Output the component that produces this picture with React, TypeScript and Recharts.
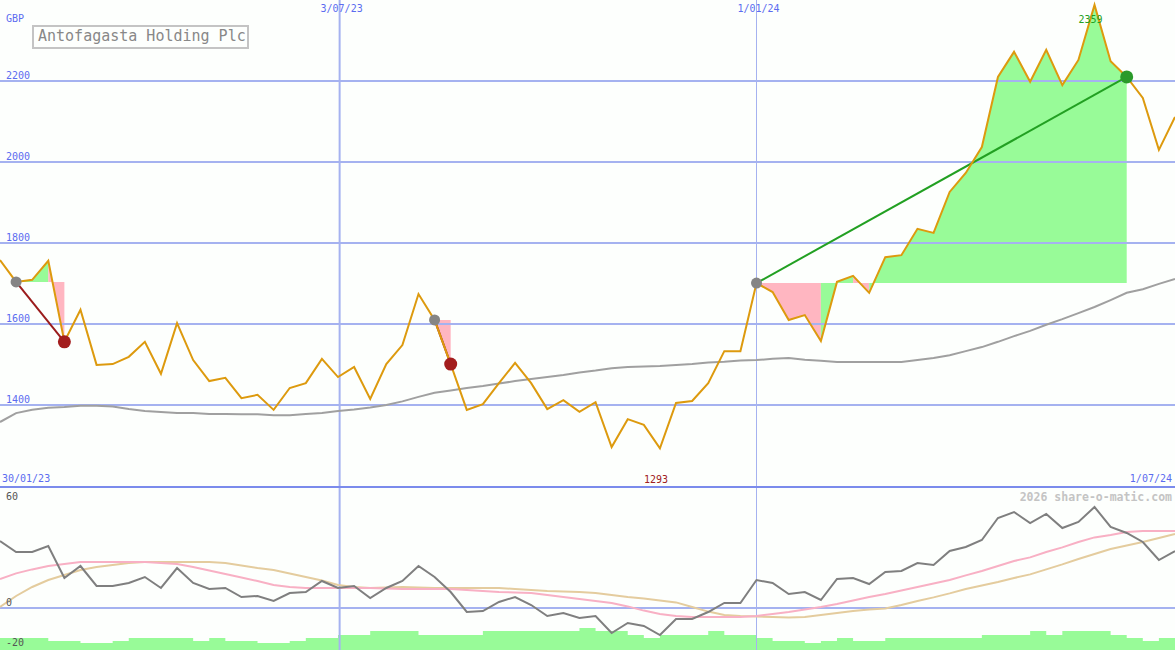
import { Area, ComposedChart, Line, ReferenceDot, ReferenceLine, XAxis, YAxis } from "recharts";

// weekly closes, GBP
const closes = [
  1758, 1704, 1709, 1756, 1556, 1635, 1499, 1501, 1519, 1556,
  1477, 1602, 1511, 1459, 1467, 1417, 1425, 1388, 1442, 1454,
  1514, 1469, 1494, 1415, 1501, 1548, 1674, 1610, 1501, 1388,
  1402, 1454, 1504, 1454, 1390, 1412, 1383, 1407, 1296, 1365,
  1351, 1293, 1405, 1410, 1454, 1533, 1533, 1701, 1679, 1610,
  1622, 1558, 1704, 1719, 1677, 1765, 1770, 1835, 1825, 1926,
  1973, 2037, 2210, 2272, 2198, 2277, 2190, 2252, 2388, 2249,
  2210, 2158, 2030, 2111,
];

// long moving average
const movingAvg = [
  1358, 1380, 1388, 1393, 1395, 1398, 1398, 1396, 1390, 1385,
  1383, 1380, 1380, 1378, 1378, 1377, 1377, 1375, 1375, 1378,
  1380, 1385, 1389, 1394, 1400, 1409, 1420, 1430, 1436, 1442,
  1447, 1453, 1459, 1464, 1469, 1474, 1480, 1485, 1491, 1494,
  1495, 1496, 1499, 1501, 1505, 1507, 1510, 1511, 1514, 1516,
  1512, 1509, 1506, 1506, 1506, 1506, 1506, 1511, 1516, 1523,
  1533, 1543, 1556, 1570, 1583, 1598, 1612, 1627, 1642, 1659,
  1677, 1686, 1699, 1711,
];

// lower panel indicator
const momentum = [
  33.5, 28, 28, 31, 15, 21, 11, 11, 12.5, 15.5,
  10, 20, 12.5, 9.5, 10, 5.5, 6, 3.5, 7.5, 8,
  13.5, 10, 11, 5, 10, 13.5, 21, 15.5, 8, -2,
  -1.5, 3, 5.5, 1.5, -4, -2.5, -5, -4, -12.5, -7.5,
  -9, -13.5, -5.5, -5.5, -2, 2.5, 2.5, 14, 12.5, 7,
  8, 4, 14.5, 15, 12, 18, 18.5, 22.5, 21.5, 28.5,
  30.5, 34, 45, 48, 42.5, 47, 40, 43, 50.5, 40.5,
  37.5, 33, 24, 28.5,
];

const fastSignal = [
  14.5, 17.3, 19.3, 21, 22, 23, 23, 23, 23, 23,
  22.5, 22, 20.5, 18.8, 17, 15.3, 13.5, 11.5, 10.5, 10,
  10, 10, 10, 10, 9.8, 9.5, 9.5, 9.5, 9.5, 9,
  8.5, 8, 7.8, 7.5, 6.5, 5.5, 4.5, 3.5, 2.5, 0.8,
  -1.3, -3, -4, -4.5, -4.5, -4.5, -4.5, -4, -3, -2,
  -0.8, 0.5, 2, 3.8, 5.5, 7, 8.8, 10.5, 12.3, 14,
  16.3, 18.5, 21, 23.5, 25.3, 28, 30.3, 33, 35.3, 36.5,
  38, 38.5, 38.5, 38.5,
];

const slowSignal = [
  0.5, 6, 10.5, 14, 16.5, 19, 20.5, 21.5, 22.5, 23,
  23, 23, 23, 23, 22.5, 21.3, 20, 19, 17.3, 15.5,
  13.8, 11.5, 10.5, 10, 10.3, 10.5, 10.3, 10, 10, 10,
  10, 10, 9.5, 9, 8.5, 8.3, 8, 7.5, 6.5, 5.5,
  4.8, 3.8, 2.8, 0.5, -1.8, -3.5, -4, -4.3, -4.5, -4.8,
  -4.5, -3.5, -2.5, -1.5, -0.8, -0.3, 1.5, 3.5, 5.3, 7.3,
  9.5, 11.3, 13, 15, 16.8, 19.3, 21.8, 24.5, 27, 29.5,
  31.3, 33, 35, 37,
];

const volume = [
  12, 12, 12, 9, 9, 7, 7, 9, 12, 12,
  12, 12, 9, 12, 9, 9, 7, 7, 9, 12,
  12, 15, 15, 19, 19, 19, 15, 15, 15, 15,
  19, 19, 19, 19, 19, 19, 22, 19, 19, 15,
  12, 15, 15, 15, 19, 15, 15, 12, 9, 9,
  7, 9, 12, 9, 9, 12, 12, 12, 12, 12,
  12, 15, 15, 15, 19, 15, 19, 19, 19, 15,
  12, 9, 12, 12,
];

const signalStarts = [1, 27, 47];
const signalEnds = [4, 28, 70];
const priceTicks = [1400, 1600, 1800, 2000, 2200];
const oscTicks = [60, 0, -20];
const dateLines = [21.1, 47];
const dateLabels = ["3/07/23", "1/01/24"];

const MONO = "'DejaVu Sans Mono', monospace";
const BLUE_TEXT = "#5b6cf0";
const GRID = "#a5b2f0";
const GREEN_FILL = "#98fb98";
const PINK_FILL = "#ffb6c1";

const rows: Record<string, any>[] = closes.map((close, i) => ({
  i,
  close,
  avg: movingAvg[i],
  mom: momentum[i],
  fast: fastSignal[i],
  slow: slowSignal[i],
  vol: volume[i],
}));

const fills: { key: string; color: string }[] = [];
signalStarts.forEach((s, k) => {
  const e = signalEnds[k];
  const level = closes[s];
  rows[s][`trend${k}`] = level;
  rows[e][`trend${k}`] = closes[e];
  let run = -1;
  let color = "";
  let key = "";
  for (let j = s; j < e; j++) {
    const c = closes[j + 1] >= level ? GREEN_FILL : PINK_FILL;
    if (c !== color) {
      run++;
      color = c;
      key = `fill${k}_${run}`;
      fills.push({ key, color });
      rows[j][key] = [level, closes[j]];
    }
    rows[j + 1][key] = [level, closes[j + 1]];
  }
});

function makeDot(k: number) {
  const up = closes[signalEnds[k]] > closes[signalStarts[k]];
  return (props: any) => {
    const { cx, cy, index, value } = props;
    if (value == null || cx == null || cy == null) return <g key={`d${k}-${index}`} />;
    const isStart = index === signalStarts[k];
    const fill = isStart ? "#858585" : up ? "#2a9a2a" : "#a31d1d";
    return <circle key={`d${k}-${index}`} cx={cx} cy={cy} r={isStart ? 5.5 : 6.5} fill={fill} />;
  };
}

export default function App() {
  return (
    <div
      style={{
        position: "absolute",
        left: 0,
        top: 0,
        width: 1175,
        height: 650,
        background: "#fdfffd",
        overflow: "hidden",
        fontFamily: MONO,
      }}
    >
      <ComposedChart width={1175} height={486} data={rows} margin={{ top: 0, right: 0, bottom: 0, left: 0 }}>
        <XAxis type="number" dataKey="i" domain={[0, 73]} hide />
        <YAxis domain={[1200, 2400]} allowDataOverflow hide />
        {priceTicks.map((t) => (
          <ReferenceLine
            key={t}
            y={t}
            stroke={GRID}
            strokeWidth={2}
            label={(p: any) => (
              <text x={6} y={p.viewBox.y - 2} fill={BLUE_TEXT} fontSize={10} fontFamily={MONO}>
                {t}
              </text>
            )}
          />
        ))}
        {dateLines.map((x, k) => (
          <ReferenceLine
            key={x}
            x={x}
            stroke={GRID}
            strokeWidth={k === 0 ? 2 : 1}
            label={(p: any) => (
              <text x={p.viewBox.x + 2} y={12} textAnchor="middle" fill={BLUE_TEXT} fontSize={10} fontFamily={MONO}>
                {dateLabels[k]}
              </text>
            )}
          />
        ))}
        {fills.map((f) => (
          <Area
            key={f.key}
            dataKey={f.key}
            fill={f.color}
            fillOpacity={1}
            stroke="none"
            dot={false}
            activeDot={false}
            isAnimationActive={false}
          />
        ))}
        <Line dataKey="avg" stroke="#a0a0a0" strokeWidth={2} dot={false} activeDot={false} isAnimationActive={false} />
        {signalStarts.map((s, k) => (
          <Line
            key={`t${k}`}
            dataKey={`trend${k}`}
            stroke={closes[signalEnds[k]] > closes[s] ? "#22a022" : "#9b1c1c"}
            strokeWidth={2}
            connectNulls
            dot={false}
            activeDot={false}
            isAnimationActive={false}
          />
        ))}
        <Line dataKey="close" stroke="#dd9a0e" strokeWidth={2} dot={false} activeDot={false} isAnimationActive={false} />
        {signalStarts.map((s, k) => (
          <Line
            key={`m${k}`}
            dataKey={`trend${k}`}
            stroke="none"
            connectNulls
            dot={makeDot(k)}
            activeDot={false}
            isAnimationActive={false}
          />
        ))}
        <ReferenceDot
          x={41}
          y={1293}
          r={0}
          fill="none"
          stroke="none"
          label={(p: any) => (
            <text x={p.viewBox.x - 4} y={483} textAnchor="middle" fill="#a02020" fontSize={10} fontFamily={MONO}>
              1293
            </text>
          )}
        />
        <ReferenceDot
          x={68}
          y={2388}
          r={0}
          fill="none"
          stroke="none"
          label={(p: any) => (
            <text x={p.viewBox.x - 4} y={23} textAnchor="middle" fill="#22a022" fontSize={10} fontFamily={MONO}>
              2359
            </text>
          )}
        />
      </ComposedChart>

      <div style={{ position: "absolute", left: 6, top: 13, fontSize: 10, color: BLUE_TEXT, lineHeight: "12px" }}>GBP</div>
      <div
        style={{
          position: "absolute",
          left: 32,
          top: 25,
          width: 217,
          height: 24,
          boxSizing: "border-box",
          border: "2px solid #c4c4c4",
          background: "#fdfffd",
          color: "#888",
          fontSize: 15,
          lineHeight: "19px",
          paddingLeft: 4,
        }}
      >
        Antofagasta Holding Plc
      </div>
      <div style={{ position: "absolute", left: 2, top: 473, fontSize: 10, color: BLUE_TEXT, lineHeight: "12px" }}>30/01/23</div>
      <div style={{ position: "absolute", right: 3, top: 473, fontSize: 10, color: BLUE_TEXT, lineHeight: "12px" }}>1/07/24</div>

      <div
        style={{
          position: "absolute",
          left: 0,
          top: 486,
          width: 1175,
          height: 164,
          borderTop: "2px solid #7b8bec",
          boxSizing: "border-box",
        }}
      >
        <ComposedChart width={1175} height={162} data={rows} margin={{ top: 0, right: 0, bottom: 0, left: 0 }}>
          <XAxis type="number" dataKey="i" domain={[0, 73]} hide />
          <YAxis yAxisId="osc" domain={[-21, 60]} allowDataOverflow hide />
          <YAxis yAxisId="vol" domain={[0, 162]} hide />
          {dateLines.map((x, k) => (
            <ReferenceLine key={x} yAxisId="osc" x={x} stroke={GRID} strokeWidth={k === 0 ? 2 : 1} />
          ))}
          <ReferenceLine yAxisId="osc" y={0} stroke={GRID} strokeWidth={2} />
          <Area
            yAxisId="vol"
            type="stepAfter"
            dataKey="vol"
            fill={GREEN_FILL}
            fillOpacity={1}
            stroke="none"
            dot={false}
            activeDot={false}
            isAnimationActive={false}
          />
          <Line yAxisId="osc" dataKey="slow" stroke="#e4cc9e" strokeWidth={2} dot={false} activeDot={false} isAnimationActive={false} />
          <Line yAxisId="osc" dataKey="fast" stroke="#f8b0c4" strokeWidth={2} dot={false} activeDot={false} isAnimationActive={false} />
          <Line yAxisId="osc" dataKey="mom" stroke="#7f7f7f" strokeWidth={2} dot={false} activeDot={false} isAnimationActive={false} />
          {oscTicks.map((t) => (
            <ReferenceLine
              key={`lbl${t}`}
              yAxisId="osc"
              y={t}
              stroke="none"
              label={(p: any) => (
                <text x={6} y={Math.max(p.viewBox.y - 2, 12)} fill="#555" fontSize={10} fontFamily={MONO}>
                  {t}
                </text>
              )}
            />
          ))}
        </ComposedChart>
        <div
          style={{
            position: "absolute",
            right: 3,
            top: 2,
            fontSize: 11.5,
            fontWeight: "bold",
            color: "#c4c4c4",
            lineHeight: "14px",
          }}
        >
          2026 share-o-matic.com
        </div>
      </div>
    </div>
  );
}
